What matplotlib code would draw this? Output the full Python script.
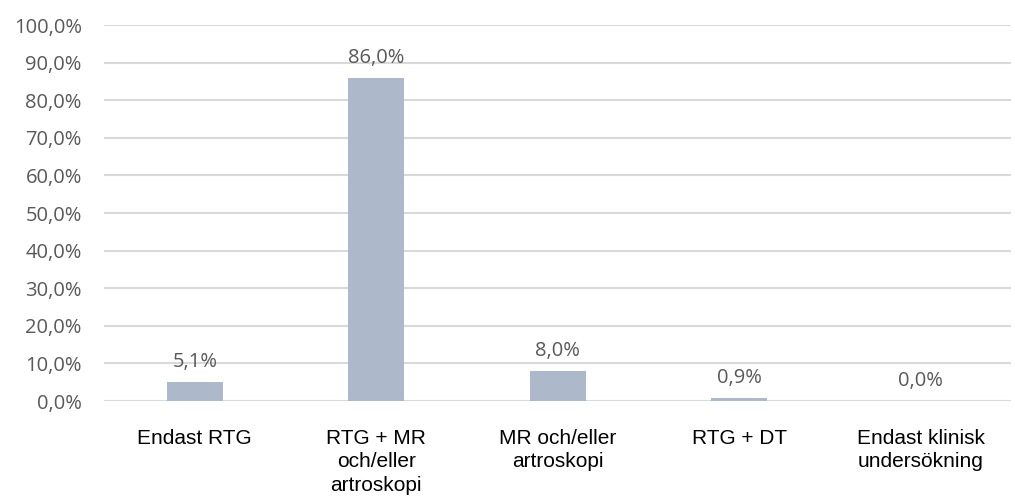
import matplotlib.pyplot as plt
from matplotlib.ticker import FuncFormatter

categories = ['Endast RTG', 'RTG + MR\noch/eller\nartroskopi', 'MR och/eller\nartroskopi',
              'RTG + DT', 'Endast klinisk\nundersökning']
values = [5.1, 86.0, 8.0, 0.9, 0.0]
yticks = [0, 10, 20, 30, 40, 50, 60, 70, 80, 90, 100]

fig = plt.figure(figsize=(10.15, 5.01), dpi=100)
ax = fig.add_axes([0.1025, 0.1996, 0.894, 0.7504])

x = range(len(categories))
ax.bar(x, values, width=0.31, color='#ADB9CA', zorder=2)

for xi, v in zip(x, values):
    ax.annotate(f'{v:.1f}%'.replace('.', ','), (xi, v), xytext=(0, 7), textcoords='offset points',
                ha='center', va='bottom', fontsize=14.5, color='#595959', family='Open Sans')

ax.set_xlim(-0.5, len(categories) - 0.5)
ax.set_ylim(0, 100)
ax.set_yticks(yticks)
ax.yaxis.set_major_formatter(FuncFormatter(lambda v, p: f'{v:.1f}%'.replace('.', ',')))
ax.grid(axis='y', color='#D9D9D9', linewidth=1.5, zorder=0)
for s in ax.spines.values():
    s.set_visible(False)
ax.tick_params(axis='y', length=0, pad=16, labelsize=14.5, labelcolor='#595959')
for lab in ax.get_yticklabels():
    lab.set_family('Open Sans')

ax.set_xticks(list(x))
ax.set_xticklabels(categories, fontsize=15, family='Liberation Sans', color='black',
                   linespacing=1.3, va='top')
ax.tick_params(axis='x', length=0, pad=20)

fig.savefig('out.png', dpi=100)
